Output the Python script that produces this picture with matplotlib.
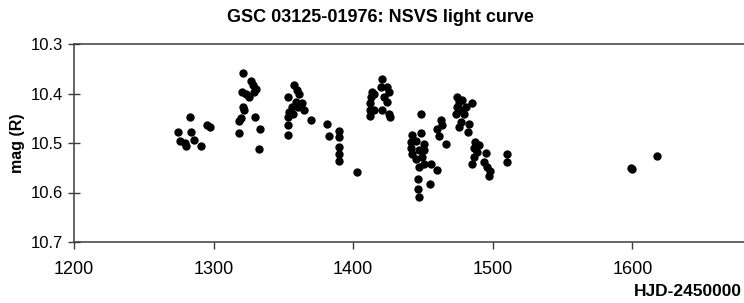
import matplotlib
matplotlib.use("Agg")
import matplotlib.pyplot as plt

hjd = [
    1282.9, 1274.5, 1275.7, 1280.5, 1283.6, 1285.9, 1290.7, 1295.5, 1297.6, 1279.8,
    1321.4, 1326.9, 1328.1, 1320.2, 1329.3, 1325.7, 1321.4, 1322.1, 1319.3, 1317.9,
    1329.8, 1332.9, 1317.9, 1332.4, 1330.5, 1323.4,
    1357.9, 1359.8, 1361.4, 1353.6, 1359.1, 1363.1, 1364.5, 1354.3, 1356.6, 1353.6,
    1353.1, 1353.1, 1369.8, 1355.9, 1360.2,
    1381.6, 1382.9, 1390.0, 1390.0, 1389.5, 1389.5, 1390.0, 1403.1,
    1420.5, 1413.8, 1412.6, 1412.1, 1412.1, 1412.1, 1415.0, 1424.5, 1425.7, 1422.1,
    1424.5, 1420.9, 1425.7, 1426.4, 1419.8, 1415.0,
    1448.4, 1441.9, 1448.4, 1441.2, 1441.2, 1442.4, 1444.8, 1450.7, 1450.7, 1449.5,
    1447.1, 1450.7, 1455.5, 1459.8, 1446.6, 1454.8, 1446.6, 1447.1, 1444.8, 1447.1,
    1462.6, 1460.2, 1461.4, 1466.2, 1463.8,
    1474.5, 1475.7, 1478.1, 1485.2, 1474.5, 1476.9, 1480.5, 1473.4, 1476.9, 1482.9,
    1475.7, 1482.1, 1487.6, 1490.0, 1486.4, 1488.8, 1495.5, 1486.9, 1485.2, 1493.6,
    1495.9, 1497.9, 1497.1, 1479.3,
    1510.2, 1510.2,
    1599.0, 1600.0, 1617.4,
]
mag = [
    10.448, 10.477, 10.495, 10.506, 10.477, 10.494, 10.507, 10.463, 10.468, 10.500,
    10.358, 10.375, 10.383, 10.397, 10.397, 10.408, 10.427, 10.433, 10.449, 10.456,
    10.448, 10.471, 10.480, 10.512, 10.390, 10.400,
    10.383, 10.393, 10.400, 10.408, 10.417, 10.420, 10.434, 10.437, 10.441, 10.448,
    10.464, 10.483, 10.453, 10.427, 10.427,
    10.461, 10.485, 10.475, 10.487, 10.509, 10.522, 10.536, 10.559,
    10.370, 10.397, 10.408, 10.420, 10.434, 10.446, 10.400, 10.387, 10.397, 10.407,
    10.417, 10.434, 10.441, 10.448, 10.387, 10.434,
    10.441, 10.483, 10.480, 10.498, 10.510, 10.522, 10.532, 10.502, 10.514, 10.529,
    10.549, 10.542, 10.542, 10.554, 10.573, 10.582, 10.592, 10.610, 10.495, 10.515,
    10.454, 10.471, 10.485, 10.502, 10.464,
    10.408, 10.417, 10.414, 10.419, 10.427, 10.434, 10.427, 10.441, 10.458, 10.461,
    10.468, 10.478, 10.498, 10.505, 10.510, 10.519, 10.521, 10.529, 10.542, 10.539,
    10.548, 10.556, 10.566, 10.441,
    10.523, 10.539,
    10.550, 10.552, 10.527,
]

x_ticks = [1200, 1300, 1400, 1500, 1600]
y_ticks = [10.3, 10.4, 10.5, 10.6, 10.7]

plt.rcParams['font.family'] = ['Liberation Sans', 'DejaVu Sans']

fig = plt.figure(figsize=(7.44, 3.03), dpi=100)
ax = fig.add_axes([74 / 744, 1 - 242 / 303, 1 - 74 / 744, 198 / 303])

ax.plot(hjd, mag, 'o', color='black', ms=6, mec='black', mew=0, clip_on=False)

ax.set_xlim(1200, 1680)
ax.set_ylim(10.7, 10.3)
ax.set_xticks(x_ticks)
ax.set_yticks(y_ticks)
ax.set_yticklabels([f"{v:.1f}" for v in y_ticks])

for s in ax.spines.values():
    s.set_color('#3c3c3c')
    s.set_linewidth(1.1)
ax.spines['right'].set_visible(False)

ax.tick_params(axis='x', direction='out', length=5, width=1, color='#3c3c3c',
               labelsize=13, pad=9)
ax.tick_params(axis='y', direction='inout', length=8, width=1, color='#3c3c3c',
               labelsize=12, pad=4)

ax.set_ylabel("mag (R)", fontsize=11.5, fontweight='bold', labelpad=4)
fig.text(0.997, 1 - 291 / 303, "HJD-2450000", ha='right', va='center',
         fontsize=12.5, fontweight='bold')
fig.text(380 / 744, 1 - 18 / 303, "GSC 03125-01976: NSVS light curve",
         ha='center', va='center', fontsize=13, fontweight='bold')

fig.savefig("out.png", dpi=100)
